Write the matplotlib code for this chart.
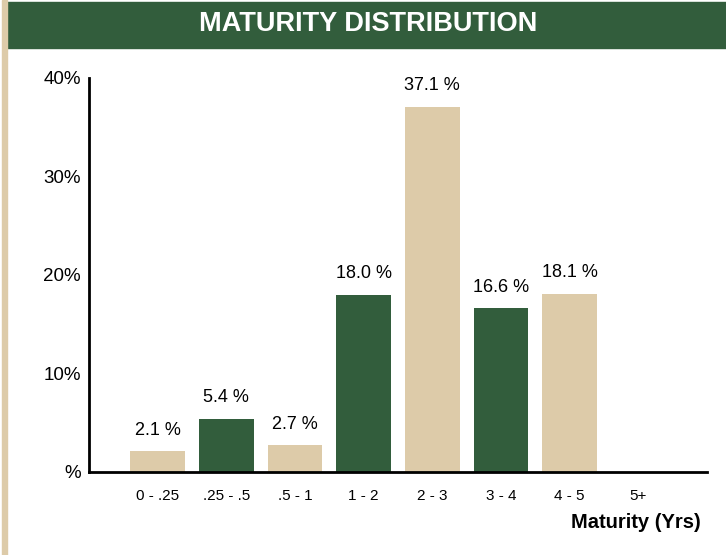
import matplotlib.pyplot as plt
from matplotlib.patches import Rectangle

# maturity buckets and share of portfolio (%)
buckets = ['0 - .25', '.25 - .5', '.5 - 1', '1 - 2', '2 - 3', '3 - 4', '4 - 5', '5+']
shares = [2.1, 5.4, 2.7, 18.0, 37.1, 16.6, 18.1, 0.0]
yticks = [0, 10, 20, 30, 40]
ylabels = ['%', '10%', '20%', '30%', '40%']

green = '#325d3c'
tan = '#ddcba9'
colors = [tan, green, tan, green, tan, green, tan, green]

plt.rcParams['font.family'] = ['Liberation Sans', 'DejaVu Sans']

W, H = 726, 555
fig = plt.figure(figsize=(W / 100, H / 100), dpi=100)

# title banner and left strip
fig.patches.append(Rectangle((7 / W, 1 - 48 / H), 1 - 7 / W, 46 / H,
                             transform=fig.transFigure, color=green, zorder=0))
fig.patches.append(Rectangle((2 / W, 0), 5 / W, 1,
                             transform=fig.transFigure, color=tan, zorder=0))
fig.text(368 / W, 1 - 24 / H, 'MATURITY DISTRIBUTION', ha='center', va='center',
         color='white', fontsize=19.5, fontweight='bold')

ax = fig.add_axes([89 / W, 1 - 472 / H, (707 - 89) / W, (472 - 78) / H])
x = list(range(len(buckets)))
bars = ax.bar(x, shares, width=0.8, color=colors, zorder=2)
for xi, v in zip(x, shares):
    if v > 0:
        ax.annotate(f'{v:.1f} %', (xi, v), xytext=(0, 9), textcoords='offset points',
                    ha='center', va='bottom', fontsize=13)

ax.set_xlim(-1, 8)
ax.set_ylim(0, 40)
ax.set_xticks(x)
ax.set_xticklabels(buckets, fontsize=11)
ax.set_yticks(yticks)
ax.set_yticklabels(ylabels, fontsize=13.5)
ax.tick_params(length=0)
ax.tick_params(axis='x', pad=12)
ax.tick_params(axis='y', pad=6)
for s in ['top', 'right']:
    ax.spines[s].set_visible(False)
for s in ['left', 'bottom']:
    ax.spines[s].set_linewidth(2)
    ax.spines[s].set_color('black')

fig.text(701 / W, 1 - 522 / H, 'Maturity (Yrs)', ha='right', va='center',
         fontsize=14.5, fontweight='bold')

fig.savefig('out.png', dpi=100)
